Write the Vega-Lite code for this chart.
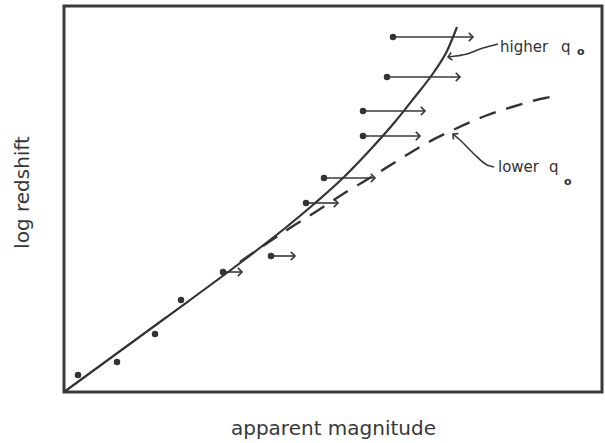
{
  "$schema": "https://vega.github.io/schema/vega-lite/v6.json",
  "width": 538,
  "height": 386,
  "autosize": {"type": "none"},
  "padding": {"left": 64, "top": 6, "right": 3, "bottom": 51},
  "background": "white",
  "config": {
    "view": {"stroke": "#3a3a3a", "strokeWidth": 3},
    "axis": {"grid": false, "labels": false, "ticks": false, "domain": false,
             "titleFont": "DejaVu Sans", "titleFontSize": 20, "titleFontWeight": "normal", "titleColor": "#383838"}
  },
  "datasets": {
    "solid": [
      {"x": 0, "y": 0}, {"x": 100, "y": 73}, {"x": 180, "y": 132}, {"x": 220, "y": 163},
      {"x": 250, "y": 188}, {"x": 280, "y": 215}, {"x": 306, "y": 242}, {"x": 330, "y": 269},
      {"x": 350, "y": 294}, {"x": 370, "y": 320}, {"x": 383, "y": 341}, {"x": 393, "y": 365}
    ],
    "dashed": [
      {"x": 176, "y": 130}, {"x": 193, "y": 142}, {"x": 223, "y": 162}, {"x": 253, "y": 181},
      {"x": 279, "y": 198}, {"x": 309, "y": 216}, {"x": 333, "y": 231}, {"x": 361, "y": 248},
      {"x": 389, "y": 262}, {"x": 421, "y": 276}, {"x": 448, "y": 285}, {"x": 481, "y": 294},
      {"x": 491, "y": 296}
    ],
    "obs": [
      {"x": 14, "y": 17, "xend": null}, {"x": 53, "y": 30, "xend": null},
      {"x": 91, "y": 58, "xend": null}, {"x": 117, "y": 92, "xend": null},
      {"x": 159, "y": 120, "xend": 178}, {"x": 207, "y": 136, "xend": 231},
      {"x": 242, "y": 189, "xend": 274}, {"x": 260, "y": 214, "xend": 311},
      {"x": 299, "y": 256, "xend": 356}, {"x": 299, "y": 281, "xend": 361},
      {"x": 323, "y": 315, "xend": 396}, {"x": 329, "y": 355, "xend": 409}
    ],
    "leaders": [
      {"g": "higher", "o": 1, "x": 434, "y": 348}, {"g": "higher", "o": 2, "x": 419, "y": 344},
      {"g": "higher", "o": 3, "x": 403, "y": 338}, {"g": "higher", "o": 4, "x": 384, "y": 335},
      {"g": "lower", "o": 1, "x": 430, "y": 225}, {"g": "lower", "o": 2, "x": 423, "y": 227},
      {"g": "lower", "o": 3, "x": 409, "y": 239}, {"g": "lower", "o": 4, "x": 396, "y": 252},
      {"g": "lower", "o": 5, "x": 389, "y": 258}
    ],
    "labels": [
      {"x": 436, "y": 345, "text": "higher"}, {"x": 497, "y": 345, "text": "q"},
      {"x": 434, "y": 225, "text": "lower"}, {"x": 485, "y": 225, "text": "q"}
    ],
    "subs": [
      {"x": 513, "y": 340, "text": "o"}, {"x": 500, "y": 210, "text": "o"}
    ]
  },
  "encoding": {
    "x": {"field": "x", "type": "quantitative", "scale": {"domain": [0, 538], "nice": false, "zero": false},
          "axis": {"title": "apparent magnitude", "titlePadding": 26}},
    "y": {"field": "y", "type": "quantitative", "scale": {"domain": [0, 386], "nice": false, "zero": false},
          "axis": {"title": "log redshift", "titlePadding": 32, "titleY": 186}}
  },
  "layer": [
    {
      "data": {"name": "solid"},
      "mark": {"type": "line", "interpolate": "monotone", "color": "#333333", "strokeWidth": 2.2}
    },
    {
      "data": {"name": "dashed"},
      "mark": {"type": "line", "interpolate": "monotone", "color": "#333333", "strokeWidth": 2.4, "strokeDash": [17, 11]}
    },
    {
      "data": {"name": "obs"},
      "transform": [{"filter": "datum.xend != null"}],
      "mark": {"type": "rule", "color": "#383838", "strokeWidth": 1.6},
      "encoding": {"x2": {"field": "xend"}}
    },
    {
      "data": {"name": "obs"},
      "transform": [{"filter": "datum.xend != null"}],
      "mark": {"type": "point", "shape": "M-1,-1L0,0L-1,1", "filled": false, "size": 70, "color": "#383838", "strokeWidth": 1.6, "opacity": 1},
      "encoding": {"x": {"field": "xend", "type": "quantitative"}}
    },
    {
      "data": {"name": "obs"},
      "mark": {"type": "circle", "size": 42, "color": "#333333", "opacity": 1}
    },
    {
      "data": {"name": "leaders"},
      "mark": {"type": "line", "interpolate": "monotone", "color": "#383838", "strokeWidth": 1.6},
      "encoding": {"detail": {"field": "g"}, "order": {"field": "o"}}
    },
    {
      "data": {"name": "leaders"},
      "transform": [{"filter": "datum.g == 'higher' && datum.o == 4"}],
      "mark": {"type": "point", "shape": "M-1,-1L0,0L-1,1", "filled": false, "size": 60, "angle": 171, "color": "#383838", "strokeWidth": 1.6, "opacity": 1}
    },
    {
      "data": {"name": "leaders"},
      "transform": [{"filter": "datum.g == 'lower' && datum.o == 5"}],
      "mark": {"type": "point", "shape": "M-1,-1L0,0L-1,1", "filled": false, "size": 60, "angle": 221, "color": "#383838", "strokeWidth": 1.6, "opacity": 1}
    },
    {
      "data": {"name": "labels"},
      "mark": {"type": "text", "align": "left", "baseline": "middle", "font": "DejaVu Sans", "fontSize": 15, "color": "#333333"},
      "encoding": {"text": {"field": "text"}}
    },
    {
      "data": {"name": "subs"},
      "mark": {"type": "text", "align": "left", "baseline": "middle", "font": "DejaVu Sans", "fontSize": 11, "fontWeight": "bold", "color": "#333333"},
      "encoding": {"text": {"field": "text"}}
    }
  ]
}
